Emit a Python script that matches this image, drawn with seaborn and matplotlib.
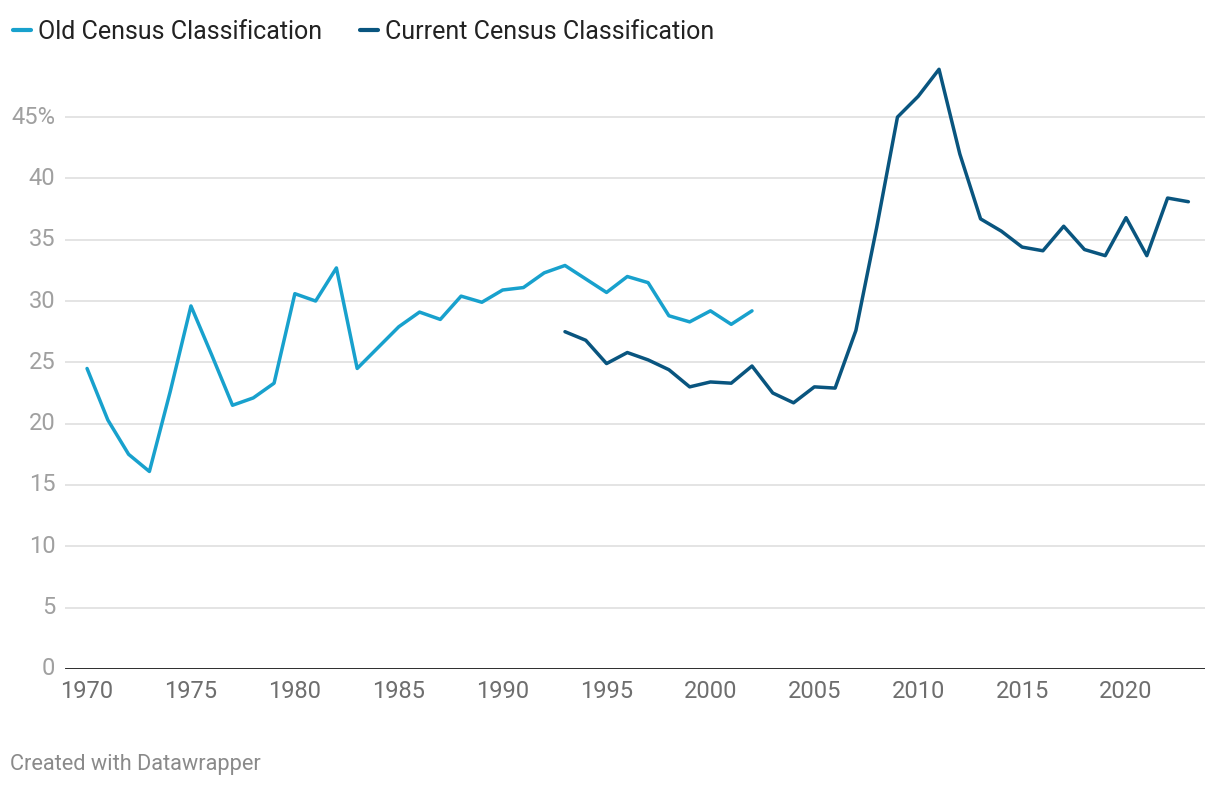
import pandas as pd
import seaborn as sns
import matplotlib.pyplot as plt

# data
old_years = list(range(1970, 2003))
old_values = [24.5, 20.3, 17.5, 16.1, 22.6, 29.6, 25.6, 21.5, 22.1, 23.3,
              30.6, 30.0, 32.7, 24.5, 26.2, 27.9, 29.1, 28.5, 30.4, 29.9,
              30.9, 31.1, 32.3, 32.9, 31.8, 30.7, 32.0, 31.5, 28.8, 28.3,
              29.2, 28.1, 29.2]

cur_years = list(range(1993, 2024))
cur_values = [27.5, 26.8, 24.9, 25.8, 25.2, 24.4, 23.0, 23.4, 23.3, 24.7,
              22.5, 21.7, 23.0, 22.9, 27.6, 36.0, 45.0, 46.7, 48.9, 42.0,
              36.7, 35.7, 34.4, 34.1, 36.1, 34.2, 33.7, 36.8, 33.7, 38.4,
              38.1]

series_names = ['Old Census Classification', 'Current Census Classification']
series_colors = ['#18a1cd', '#09557f']

y_ticks = [0, 5, 10, 15, 20, 25, 30, 35, 40, 45]
y_labels = ['0', '5', '10', '15', '20', '25', '30', '35', '40', '45%']
x_ticks = [1970, 1975, 1980, 1985, 1990, 1995, 2000, 2005, 2010, 2015, 2020]

df = pd.concat([
    pd.DataFrame({'year': old_years, 'value': old_values, 'series': series_names[0]}),
    pd.DataFrame({'year': cur_years, 'value': cur_values, 'series': series_names[1]}),
])

sns.set_style('white')
plt.rcParams['font.family'] = ['Roboto', 'DejaVu Sans']

fig = plt.figure(figsize=(12.2, 7.86), dpi=100)
ax = fig.add_axes([0.0533, 0.149, 0.9344, 0.78])

sns.lineplot(data=df, x='year', y='value', hue='series',
             palette=dict(zip(series_names, series_colors)),
             linewidth=2.5, ax=ax, legend=False)

ax.set_xlim(1968.94, 2023.8)
ax.set_ylim(0, 50)
ax.set_yticks(y_ticks)
ax.set_yticklabels(y_labels)
ax.set_xticks(x_ticks)
ax.set_xlabel('')
ax.set_ylabel('')

for t in y_ticks[1:]:
    ax.axhline(t, color='#e2e2e2', linewidth=1.3, zorder=0)
ax.axhline(0, color='#1a1a1a', linewidth=2, zorder=3)

for s in ax.spines.values():
    s.set_visible(False)

ax.tick_params(axis='y', length=0, pad=7, labelsize=17, labelcolor='#a0a0a0')
ax.tick_params(axis='x', length=0, pad=8, labelsize=17, labelcolor='#6e6e6e')
for lbl in ax.get_yticklabels():
    lbl.set_verticalalignment('center')

handles = [plt.Line2D([0], [0], color=c, linewidth=3, solid_capstyle='round')
           for c in series_colors]
fig.legend(handles, series_names, loc='upper left', bbox_to_anchor=(0.0105, 0.975),
           ncol=2, frameon=False, handlelength=0.72, handletextpad=0.3,
           columnspacing=1.5, fontsize=18, labelcolor='#222222',
           borderpad=0, borderaxespad=0)

fig.text(0.008, 0.02, 'Created with Datawrapper', fontsize=15.7, color='#8a8a8a')

fig.savefig('out.png', dpi=100)
